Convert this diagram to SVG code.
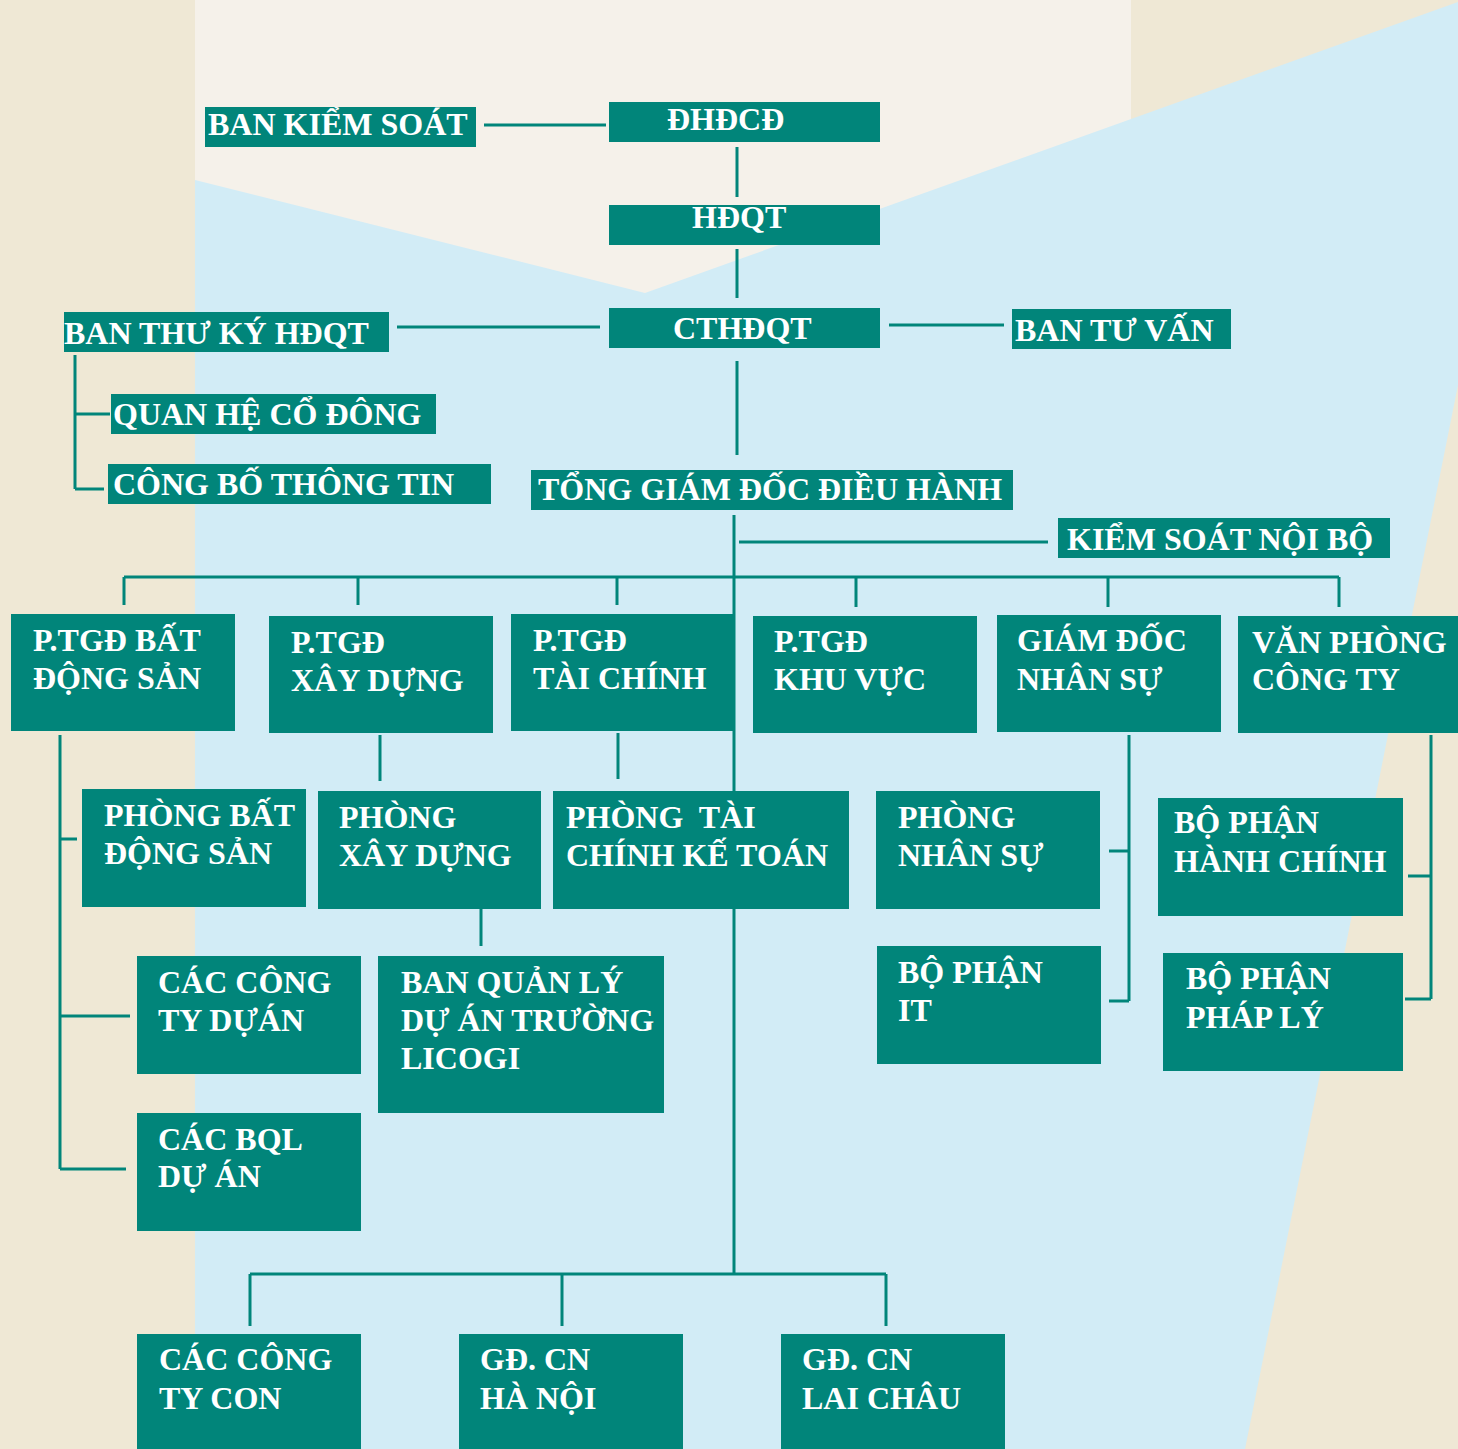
<svg xmlns="http://www.w3.org/2000/svg" width="1458" height="1449" viewBox="0 0 1458 1449">
<style>
.box{fill:#01857A}
.t{font-family:"Liberation Serif","Times New Roman",serif;font-weight:bold;font-size:32px;fill:#FFFFFF}
.c{fill:none;stroke:#01857A;stroke-width:3}
</style>
<g id="background">
<rect x="0" y="0" width="1458" height="1449" fill="#EFE8D5"/>
<rect x="195" y="0" width="936" height="1449" fill="#F5F1EA"/>
<polygon points="195,180 645,293 1458,2 1458,385 1245,1449 195,1449" fill="#D2ECF6"/>
</g>
<g id="connectors" class="c">
<path d="M484 125 H606"/>
<path d="M737 147 V197"/>
<path d="M737 249 V298"/>
<path d="M397 327 H600"/>
<path d="M889 325 H1004"/>
<path d="M737 361 V455"/>
<path d="M75 355 V489 M75 414 H110 M75 489 H104"/>
<path d="M734 515 V1274"/>
<path d="M739 542 H1048"/>
<path d="M124 577 H1339 M124 577 V605 M358 577 V605 M617 577 V605 M856 577 V607 M1108 577 V607 M1339 577 V607"/>
<path d="M60 735 V1169 M60 839 H77 M60 1016 H130 M60 1169 H126"/>
<path d="M380 735 V781"/>
<path d="M618 733 V779"/>
<path d="M481 909 V946"/>
<path d="M1129 735 V1001 M1109 851 H1129 M1109 1001 H1129"/>
<path d="M1431 735 V999 M1408 876 H1431 M1405 999 H1431"/>
<path d="M250 1274 H886 M250 1274 V1326 M562 1274 V1326 M886 1274 V1326"/>
</g>
<g id="n-ban-kiem-soat"><rect class="box" x="205" y="107" width="271" height="40"/><text class="t" x="208" y="135">BAN KIỂM SOÁT</text></g>
<g id="n-dhdcd"><rect class="box" x="609" y="102" width="271" height="40"/><text class="t" x="667" y="130">ĐHĐCĐ</text></g>
<g id="n-hdqt"><rect class="box" x="609" y="205" width="271" height="40"/><text class="t" x="692" y="228">HĐQT</text></g>
<g id="n-cthdqt"><rect class="box" x="609" y="308" width="271" height="40"/><text class="t" x="673" y="339">CTHĐQT</text></g>
<g id="n-ban-thu-ky"><rect class="box" x="64" y="312" width="325" height="40"/><text class="t" x="64" y="344">BAN THƯ KÝ HĐQT</text></g>
<g id="n-ban-tu-van"><rect class="box" x="1012" y="309" width="219" height="40"/><text class="t" x="1015" y="341">BAN TƯ VẤN</text></g>
<g id="n-quan-he-co-dong"><rect class="box" x="111" y="394" width="325" height="40"/><text class="t" x="113" y="425">QUAN HỆ CỔ ĐÔNG</text></g>
<g id="n-cong-bo-thong-tin"><rect class="box" x="108" y="464" width="383" height="40"/><text class="t" x="113" y="495">CÔNG BỐ THÔNG TIN</text></g>
<g id="n-tgd"><rect class="box" x="531" y="470" width="482" height="40"/><text class="t" x="538" y="500">TỔNG GIÁM ĐỐC ĐIỀU HÀNH</text></g>
<g id="n-ksnb"><rect class="box" x="1058" y="518" width="332" height="40"/><text class="t" x="1067" y="550">KIỂM SOÁT NỘI BỘ</text></g>
<g id="n-ptgd-bds"><rect class="box" x="11" y="614" width="224" height="117"/><text class="t" x="33" y="651">P.TGĐ BẤT</text><text class="t" x="33" y="689">ĐỘNG SẢN</text></g>
<g id="n-ptgd-xd"><rect class="box" x="269" y="616" width="224" height="117"/><text class="t" x="291" y="653">P.TGĐ</text><text class="t" x="291" y="691">XÂY DỰNG</text></g>
<g id="n-ptgd-tc"><rect class="box" x="511" y="614" width="223" height="117"/><text class="t" x="533" y="651">P.TGĐ</text><text class="t" x="533" y="689">TÀI CHÍNH</text></g>
<g id="n-ptgd-kv"><rect class="box" x="753" y="616" width="224" height="117"/><text class="t" x="774" y="652">P.TGĐ</text><text class="t" x="774" y="690">KHU VỰC</text></g>
<g id="n-gd-ns"><rect class="box" x="997" y="615" width="224" height="117"/><text class="t" x="1017" y="651">GIÁM ĐỐC</text><text class="t" x="1017" y="690">NHÂN SỰ</text></g>
<g id="n-vp-cty"><rect class="box" x="1238" y="616" width="220" height="117"/><text class="t" x="1252" y="653">VĂN PHÒNG</text><text class="t" x="1252" y="690">CÔNG TY</text></g>
<g id="n-phong-bds"><rect class="box" x="82" y="789" width="224" height="118"/><text class="t" x="104" y="826">PHÒNG BẤT</text><text class="t" x="104" y="864">ĐỘNG SẢN</text></g>
<g id="n-phong-xd"><rect class="box" x="318" y="791" width="223" height="118"/><text class="t" x="339" y="828">PHÒNG</text><text class="t" x="339" y="866">XÂY DỰNG</text></g>
<g id="n-phong-tckt"><rect class="box" x="553" y="791" width="296" height="118"/><text class="t" x="566" y="828" xml:space="preserve">PHÒNG  TÀI</text><text class="t" x="566" y="866">CHÍNH KẾ TOÁN</text></g>
<g id="n-phong-ns"><rect class="box" x="876" y="791" width="224" height="118"/><text class="t" x="898" y="828">PHÒNG</text><text class="t" x="898" y="866">NHÂN SỰ</text></g>
<g id="n-bp-it"><rect class="box" x="877" y="946" width="224" height="118"/><text class="t" x="898" y="983">BỘ PHẬN</text><text class="t" x="898" y="1021">IT</text></g>
<g id="n-bp-hc"><rect class="box" x="1158" y="798" width="245" height="118"/><text class="t" x="1174" y="833">BỘ PHẬN</text><text class="t" x="1174" y="872">HÀNH CHÍNH</text></g>
<g id="n-bp-pl"><rect class="box" x="1163" y="953" width="240" height="118"/><text class="t" x="1186" y="989">BỘ PHẬN</text><text class="t" x="1186" y="1028">PHÁP LÝ</text></g>
<g id="n-cty-du-an"><rect class="box" x="137" y="956" width="224" height="118"/><text class="t" x="158" y="993">CÁC CÔNG</text><text class="t" x="158" y="1031">TY DỰÁN</text></g>
<g id="n-bql-truong"><rect class="box" x="378" y="956" width="286" height="157"/><text class="t" x="401" y="993">BAN QUẢN LÝ</text><text class="t" x="401" y="1031">DỰ ÁN TRƯỜNG</text><text class="t" x="401" y="1069">LICOGI</text></g>
<g id="n-bql-du-an"><rect class="box" x="137" y="1113" width="224" height="118"/><text class="t" x="158" y="1150">CÁC BQL</text><text class="t" x="158" y="1187">DỰ ÁN</text></g>
<g id="n-cty-con"><rect class="box" x="137" y="1334" width="224" height="115"/><text class="t" x="159" y="1370">CÁC CÔNG</text><text class="t" x="159" y="1409">TY CON</text></g>
<g id="n-cn-hn"><rect class="box" x="459" y="1334" width="224" height="115"/><text class="t" x="480" y="1370">GĐ. CN</text><text class="t" x="480" y="1409">HÀ NỘI</text></g>
<g id="n-cn-lc"><rect class="box" x="781" y="1334" width="224" height="115"/><text class="t" x="802" y="1370">GĐ. CN</text><text class="t" x="802" y="1409">LAI CHÂU</text></g>
</svg>
